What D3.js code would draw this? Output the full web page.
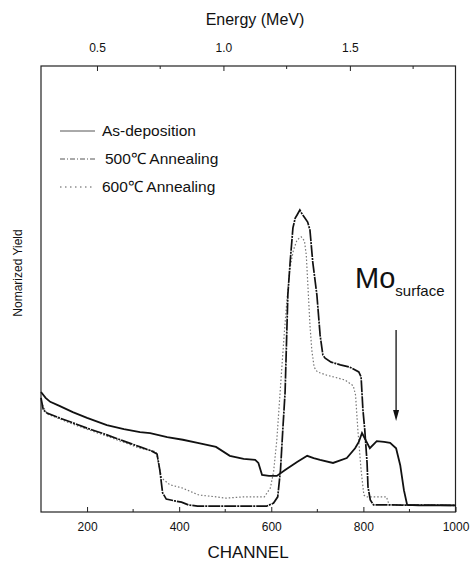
<!DOCTYPE html>
<html>
<head>
<meta charset="utf-8">
<script src="https://cdn.jsdelivr.net/npm/d3@7"></script>
<style>
  html, body { margin: 0; padding: 0; background: #fff; }
  svg { display: block; font-family: "Liberation Sans", Arial, sans-serif; }
</style>
</head>
<body>
<svg id="chart" width="472" height="562"></svg>
<script>
// RBS spectra: channel vs normalized yield
const asDepChannel = [100,110,120,140,169,200,243,280,315,337,374,408,440,480,510,540,565,572,580,595,612,630,656,678,692,706,734,764,782,790,797,808,814,829,845,858,871,880,888,895,920,1000];
const asDepYield   = [0.269,0.256,0.247,0.238,0.224,0.211,0.195,0.186,0.179,0.177,0.168,0.162,0.155,0.146,0.126,0.119,0.117,0.110,0.083,0.081,0.081,0.094,0.112,0.126,0.121,0.117,0.110,0.121,0.143,0.157,0.177,0.155,0.143,0.159,0.157,0.155,0.143,0.105,0.049,0.016,0.015,0.015];

const ann500Channel = [100,105,113,140,169,200,243,280,315,340,352,358,364,372,390,405,420,440,590,605,614,620,625,630,636,641,647,652,656,662,667,673,679,684,690,699,706,712,717,730,750,770,790,795,799,803,808,810,815,822,1000];
const ann500Yield   = [0.256,0.229,0.222,0.211,0.200,0.188,0.173,0.159,0.146,0.137,0.130,0.094,0.043,0.029,0.025,0.022,0.016,0.013,0.013,0.020,0.034,0.094,0.184,0.269,0.487,0.561,0.637,0.659,0.666,0.677,0.668,0.659,0.650,0.632,0.561,0.487,0.397,0.352,0.345,0.336,0.330,0.325,0.314,0.303,0.229,0.184,0.110,0.056,0.027,0.016,0.015];

const ann600Channel = [100,113,169,243,315,350,356,362,380,406,443,480,500,540,585,598,605,612,618,623,628,634,640,648,656,665,672,676,680,684,688,693,700,720,760,778,783,788,795,801,806,850,856,1000];
const ann600Yield   = [0.247,0.220,0.197,0.170,0.143,0.135,0.105,0.076,0.061,0.054,0.038,0.034,0.031,0.034,0.034,0.054,0.090,0.161,0.251,0.325,0.397,0.475,0.543,0.587,0.610,0.617,0.608,0.576,0.498,0.419,0.363,0.325,0.314,0.307,0.296,0.283,0.262,0.184,0.094,0.038,0.034,0.034,0.016,0.015];

const seriesNames = ["As-deposition", "500\u2103 Annealing", "600\u2103 Annealing"];

const channelTicks = [200, 400, 600, 800, 1000];
const channelMinorTicks = [300, 500, 700, 900];
const energyTicks = [0.5, 1.0, 1.5];
const energyMinorTicks = [0.75, 1.25, 1.75];

// energy calibration (MeV per channel and offset)
const mevPerChannel = 0.001821;
const energyOffset = 0.0966;

const surfaceChannel = 871;

const svg = d3.select("#chart");
const m = { left: 41, right: 455.5, top: 66, bottom: 512 };

const x = d3.scaleLinear().domain([100, 1000]).range([m.left, m.right]);
const y = d3.scaleLinear().domain([0, 1]).range([m.bottom, m.top]);
const xE = d3.scaleLinear()
  .domain([100 * mevPerChannel + energyOffset, 1000 * mevPerChannel + energyOffset])
  .range([m.left, m.right]);

// frame
svg.append("rect")
  .attr("x", m.left).attr("y", m.top)
  .attr("width", m.right - m.left).attr("height", m.bottom - m.top)
  .attr("fill", "none").attr("stroke", "#222").attr("stroke-width", 1.2);

// bottom axis (ticks inward)
const gB = svg.append("g").attr("transform", `translate(0,${m.bottom})`);
gB.call(d3.axisBottom(x).tickValues(channelTicks).tickSize(-5).tickPadding(10).tickFormat(d3.format("d")))
  .call(g => g.select(".domain").remove())
  .call(g => g.selectAll("text").attr("font-size", 12).attr("fill", "#111").attr("font-family", "Liberation Sans, Arial, sans-serif"))
  .call(g => g.selectAll("line").attr("stroke", "#222"));
gB.selectAll(".minor").data(channelMinorTicks).enter().append("line")
  .attr("x1", d => x(d)).attr("x2", d => x(d)).attr("y1", 0).attr("y2", -3).attr("stroke", "#222");

// top energy axis (ticks inward)
const gT = svg.append("g").attr("transform", `translate(0,${m.top})`);
gT.call(d3.axisTop(xE).tickValues(energyTicks).tickSize(-5).tickPadding(14).tickFormat(d3.format(".1f")))
  .call(g => g.select(".domain").remove())
  .call(g => g.selectAll("text").attr("font-size", 12).attr("fill", "#111").attr("font-family", "Liberation Sans, Arial, sans-serif"))
  .call(g => g.selectAll("line").attr("stroke", "#222"));
gT.selectAll(".minor").data(energyMinorTicks).enter().append("line")
  .attr("x1", d => xE(d)).attr("x2", d => xE(d)).attr("y1", 0).attr("y2", 3).attr("stroke", "#222");

// axis titles
svg.append("text").attr("x", 255).attr("y", 25).attr("text-anchor", "middle")
  .attr("font-size", 16).attr("fill", "#111").text("Energy (MeV)");
svg.append("text").attr("x", 248).attr("y", 558).attr("text-anchor", "middle")
  .attr("font-size", 17).attr("fill", "#111").text("CHANNEL");
svg.append("text").attr("transform", "translate(22,273) rotate(-90)").attr("text-anchor", "middle")
  .attr("font-size", 12).attr("fill", "#111").text("Nomarized Yield");

// spectra
const line = d3.line().x(d => x(d[0])).y(d => y(d[1]));
const zip = (a, b) => a.map((c, i) => [c, b[i]]);

svg.append("path").datum(zip(ann600Channel, ann600Yield)).attr("d", line)
  .attr("fill", "none").attr("stroke", "#777").attr("stroke-width", 1.2).attr("stroke-dasharray", "1.5,2");
svg.append("path").datum(zip(ann500Channel, ann500Yield)).attr("d", line)
  .attr("fill", "none").attr("stroke", "#111").attr("stroke-width", 1.7).attr("stroke-dasharray", "12,1,2,1");
svg.append("path").datum(zip(asDepChannel, asDepYield)).attr("d", line)
  .attr("fill", "none").attr("stroke", "#111").attr("stroke-width", 1.8);

// legend
const legendY = [131, 159, 187];
const legendDash = [null, "5,2,1,2", "1.5,3.5"];
const leg = svg.append("g");
seriesNames.forEach((name, i) => {
  leg.append("line").attr("x1", 60).attr("x2", 95).attr("y1", legendY[i]).attr("y2", legendY[i])
    .attr("stroke", "#555").attr("stroke-width", 1).attr("stroke-dasharray", legendDash[i]);
  leg.append("text").attr("x", i === 1 ? 105 : 102).attr("y", legendY[i] + 5)
    .attr("font-size", 15.5).attr("fill", "#111").text(name);
});

// surface annotation
const ann = svg.append("text").attr("x", 355).attr("y", 288).attr("fill", "#111");
ann.append("tspan").attr("font-size", 29).text("Mo");
ann.append("tspan").attr("font-size", 15).attr("dy", 8).text("surface");

const ax = x(surfaceChannel);
svg.append("line").attr("x1", ax).attr("x2", ax).attr("y1", 330).attr("y2", 412)
  .attr("stroke", "#111").attr("stroke-width", 1.3);
svg.append("path").attr("d", `M${ax - 3},410 L${ax + 3},410 L${ax},421 Z`).attr("fill", "#111");
</script>
</body>
</html>
